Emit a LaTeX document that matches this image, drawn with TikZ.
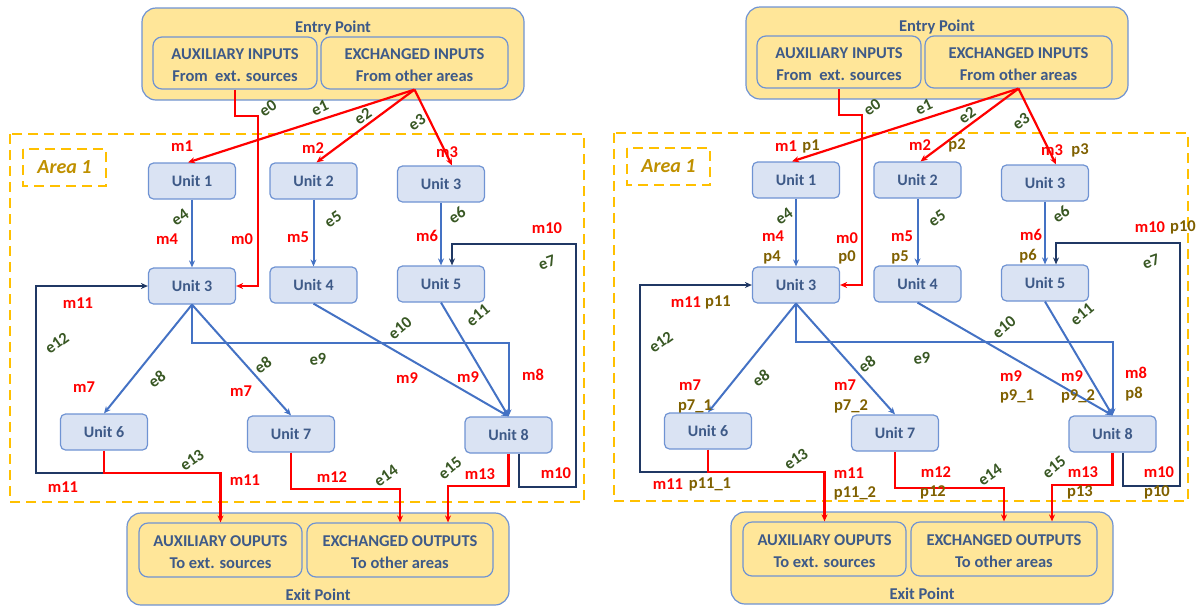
\documentclass[tikz,border=0pt]{standalone}
\usepackage{fontspec}
\setmainfont{Carlito}
\usetikzlibrary{arrows.meta}

\definecolor{unitfill}{HTML}{DAE3F3}
\definecolor{unitline}{HTML}{6F93D3}
\definecolor{unittext}{HTML}{3E5A88}
\definecolor{portfill}{HTML}{FFE699}
\definecolor{arealine}{HTML}{FFC000}
\definecolor{areatext}{HTML}{BF9000}
\definecolor{flowblue}{HTML}{4472C4}
\definecolor{flownavy}{HTML}{203864}
\definecolor{flowred}{HTML}{FF0000}
\definecolor{edgegreen}{HTML}{385723}
\definecolor{parolive}{HTML}{7F6000}

\tikzset{
  x=1pt, y=-1pt,
  unitbox/.style={draw=unitline, fill=unitfill, line width=1.2pt, rounded corners=5pt,
    minimum width=87pt, minimum height=36pt, inner sep=0pt, text=unittext,
    font=\fontsize{16}{18}\selectfont\bfseries},
  pointbox/.style={draw=unitline, fill=portfill, line width=1.2pt, rounded corners=14pt, inner sep=0pt},
  portbox/.style={draw=unitline, line width=1.2pt, rounded corners=9pt, inner sep=0pt},
  porttext/.style={align=center, text=unittext, inner sep=0pt, font=\fontsize{16.5}{22}\selectfont\bfseries},
  pointtitle/.style={text=unittext, font=\fontsize{16.5}{18}\selectfont\bfseries},
  areadash/.style={draw=arealine, line width=2.2pt, dash pattern=on 10pt off 6pt},
  tip/.style={-{Stealth[length=7pt,width=6pt]}},
  redflow/.style={tip, draw=flowred, line width=2.2pt},
  blueflow/.style={tip, draw=flowblue, line width=2pt},
  navyflow/.style={tip, draw=flownavy, line width=2pt},
  mlab/.style={text=flowred, font=\fontsize{16.5}{18}\selectfont\bfseries, inner sep=0pt},
  elab/.style={text=edgegreen, font=\fontsize{16.5}{18}\selectfont\bfseries, inner sep=0pt, rotate=35},
  plab/.style={text=parolive, font=\fontsize{16.5}{18}\selectfont\bfseries, inner sep=0pt},
}

% One area with its units, entry and exit points and all flows
\newcommand\areablock{%
  % area frame and its tag
  \draw[areadash] (10,134) rectangle (584,502);
  \draw[areadash] (23,149) rectangle (106,186);
  \node[text=areatext, font=\fontsize{20}{24}\selectfont\bfseries\itshape] (tag) at (64.5,167.5) {Area 1};
  % entry point
  \node[pointbox, minimum width=382pt, minimum height=92pt] (entry) at (333,54) {};
  \node[pointtitle] (entrytitle) at (333,28) {Entry Point};
  \node[portbox, minimum width=164pt, minimum height=52pt] (auxin) at (235,63) {};
  \node[porttext] (auxintext) at (235,65) {AUXILIARY INPUTS\\From\ \ ext. sources};
  \node[portbox, minimum width=187pt, minimum height=52pt] (exin) at (414.5,63) {};
  \node[porttext] (exintext) at (414.5,65) {EXCHANGED INPUTS\\From other areas};
  % exit point
  \node[pointbox, minimum width=382pt, minimum height=92pt] (exit) at (318,559) {};
  \node[pointtitle] (exittitle) at (318,595) {Exit Point};
  \node[portbox, minimum width=163pt, minimum height=54pt] (auxout) at (220.5,550) {};
  \node[porttext] (auxouttext) at (220.5,552) {AUXILIARY OUPUTS\\To ext. sources};
  \node[portbox, minimum width=186pt, minimum height=54pt] (exout) at (400,550) {};
  \node[porttext] (exouttext) at (400,552) {EXCHANGED OUTPUTS\\To other areas};
  % units
  \node[unitbox] (u1) at (192,181) {Unit 1};
  \node[unitbox] (u2) at (313.5,181) {Unit 2};
  \node[unitbox] (u3a) at (441,184) {Unit 3};
  \node[unitbox] (u3) at (192,286) {Unit 3};
  \node[unitbox] (u4) at (313.5,285) {Unit 4};
  \node[unitbox] (u5) at (441,284) {Unit 5};
  \node[unitbox] (u6) at (104,432) {Unit 6};
  \node[unitbox] (u7) at (291,434) {Unit 7};
  \node[unitbox] (u8) at (508.5,435) {Unit 8};
  % inputs
  \draw[redflow] (auxin.south) |- (258,116) |- (u3.east);
  \draw[redflow] (exin.south) -- ([xshift=-4pt]u1.north);
  \draw[redflow] (exin.south) -- ([xshift=3pt]u2.north);
  \draw[redflow] (exin.south) -- ([xshift=11pt]u3a.north);
  % internal flows
  \draw[blueflow] (u1) -- (u3);
  \draw[blueflow] (u2) -- (u4);
  \draw[blueflow] (u3a) -- (u5);
  \draw[blueflow] (u3.south) -- (u6.north);
  \draw[blueflow] (u3.south) -- (u7.north);
  \draw[blueflow] (u3.south) |- (508.5,343) -- (u8.north);
  \draw[blueflow] (u4.south) -- (u8.north);
  \draw[blueflow] (u5.south) -- (u8.north);
  \draw[navyflow] ([xshift=10pt]u8.south) -- ++(0,33) -| (576,244) -| ([xshift=11pt]u5.north);
  \draw[navyflow] (u6.south) ++(0,22) -| (36,286) -- (u3.west);
  % outputs
  \draw[redflow] (u6.south) -- ++(0,22) -| (auxout.north);
  \draw[redflow] (u7.south) -- ++(0,36) -| (exout.north);
  \draw[redflow] (u8.south) -- ++(0,32) -| ([xshift=48pt]exout.north);
  % flow names
  \node[elab] (le0) at (268,108) {e0};
  \node[elab, rotate=-10] (le1) at (320,108) {e1};
  \node[elab] (le2) at (363,116) {e2};
  \node[elab] (le3) at (417,122) {e3};
  \node[elab] (le4) at (180,217) {e4};
  \node[elab] (le5) at (333,219) {e5};
  \node[elab] (le6) at (457,215) {e6};
  \node[elab, rotate=-15] (le7) at (547,263) {e7};
  \node[elab] (le8a) at (157,379) {e8};
  \node[elab] (le8b) at (263,365) {e8};
  \node[elab, rotate=-30] (le9) at (318,359) {e9};
  \node[elab, rotate=5] (le10) at (400,328) {e10};
  \node[elab, rotate=5] (le11) at (478,315) {e11};
  \node[elab] (le12) at (57,343) {e12};
  \node[elab] (le13) at (192,460) {e13};
  \node[elab] (le14) at (386,476) {e14};
  \node[elab, rotate=5] (le15) at (450,468) {e15};
}

\begin{document}
\begin{tikzpicture}
\useasboundingbox (0,0) rectangle (1198,606);

% plain area: flow names and masses
\begin{scope}[name prefix=L-]
  \areablock
  \node[mlab] (m0) at (242,239) {m0};
  \node[mlab] (m1) at (182,146) {m1};
  \node[mlab] (m2) at (313,148) {m2};
  \node[mlab] (m3) at (447,152) {m3};
  \node[mlab] (m4) at (167,239) {m4};
  \node[mlab] (m5) at (298,237) {m5};
  \node[mlab] (m6) at (427,236) {m6};
  \node[mlab] (m10a) at (547,228) {m10};
  \node[mlab] (m10b) at (556,473) {m10};
  \node[mlab] (m7a) at (84,387) {m7};
  \node[mlab] (m7b) at (241,391) {m7};
  \node[mlab] (m8) at (533,375) {m8};
  \node[mlab] (m9a) at (407,378) {m9};
  \node[mlab] (m9b) at (468,377) {m9};
  \node[mlab] (m11a) at (78,303) {m11};
  \node[mlab] (m11b) at (63,487) {m11};
  \node[mlab] (m11c) at (245,480) {m11};
  \node[mlab] (m12) at (332,477) {m12};
  \node[mlab] (m13) at (480,474) {m13};
\end{scope}

% same area with the parameters of each flow
\begin{scope}[name prefix=R-, xshift=604pt, yshift=1pt]
  \areablock
  \node[mlab] (m0) at (243,239) {m0};
  \node[plab] (p0) at (243,258) {p0};
  \node[mlab] (m1) at (182,147) {m1};
  \node[plab] (p1) at (207,147) {p1};
  \node[mlab] (m2) at (316,146) {m2};
  \node[plab] (p2) at (353,146) {p2};
  \node[mlab] (m3) at (448,151) {m3};
  \node[plab] (p3) at (476,151) {p3};
  \node[mlab] (m4) at (169,237) {m4};
  \node[plab] (p4) at (168,258) {p4};
  \node[mlab] (m5) at (298,237) {m5};
  \node[plab] (p5) at (296,258) {p5};
  \node[mlab] (m6) at (427,236) {m6};
  \node[plab] (p6) at (424,257) {p6};
  \node[mlab] (m10a) at (546,228) {m10};
  \node[plab] (p10a) at (579,228) {p10};
  \node[mlab] (m10b) at (555,473) {m10};
  \node[plab] (p10b) at (553,493) {p10};
  \node[mlab] (m7a) at (86,386) {m7};
  \node[plab] (p7a) at (91,407) {p7\_1};
  \node[mlab] (m7b) at (241,386) {m7};
  \node[plab] (p7b) at (247,407) {p7\_2};
  \node[mlab] (m8) at (532,374) {m8};
  \node[plab] (p8) at (530,395) {p8};
  \node[mlab] (m9a) at (407,377) {m9};
  \node[plab] (p9a) at (413,397) {p9\_1};
  \node[mlab] (m9b) at (468,377) {m9};
  \node[plab] (p9b) at (474,397) {p9\_2};
  \node[mlab] (m11a) at (82,303) {m11};
  \node[plab] (p11a) at (114,303) {p11};
  \node[mlab] (m11b) at (64,485) {m11};
  \node[plab] (p11b) at (106,485) {p11\_1};
  \node[mlab] (m11c) at (245,474) {m11};
  \node[plab] (p11c) at (251,494) {p11\_2};
  \node[mlab] (m12) at (332,473) {m12};
  \node[plab] (p12) at (329,493) {p12};
  \node[mlab] (m13) at (479,473) {m13};
  \node[plab] (p13) at (476,493) {p13};
\end{scope}
\end{tikzpicture}
\end{document}
